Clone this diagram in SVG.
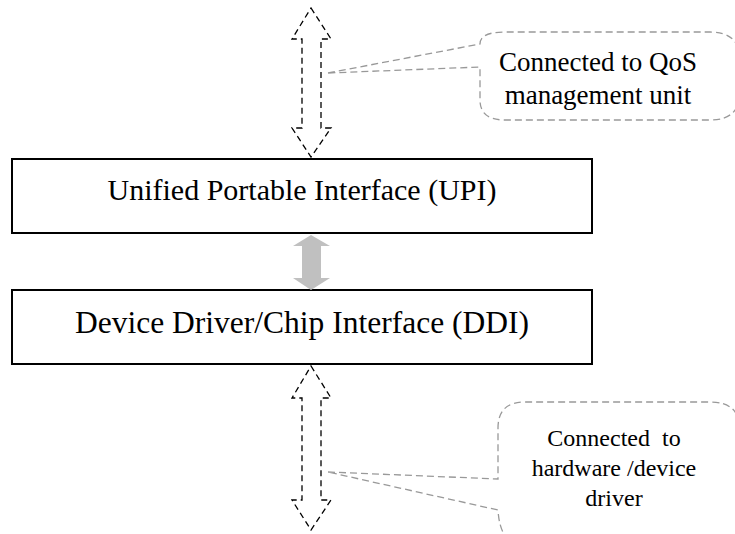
<svg xmlns="http://www.w3.org/2000/svg" width="735" height="534" viewBox="0 0 735 534">
  <style>
    .box { fill: #ffffff; stroke: #000000; stroke-width: 2; }
    .label { font-family: "Liberation Serif", "Times New Roman", serif; fill: #000000; text-anchor: middle; }
    .upi-text { font-size: 30px; }
    .ddi-text { font-size: 31.5px; }
    .note-top { font-size: 27px; }
    .note-bottom { font-size: 24px; }
    .callout { fill: #ffffff; stroke: #999999; stroke-width: 1.3; stroke-dasharray: 7 4; }
    .dashed-arrow { fill: #ffffff; stroke: #000000; stroke-width: 1.3; stroke-dasharray: 6 4; }
    .solid-arrow { fill: #c0c0c0; stroke: none; }
  </style>
  <rect width="735" height="534" fill="#ffffff"/>

  <!-- callout bubbles -->
  <g id="note-qos">
    <path class="callout" d="M328,73 L480,44 Q480,32 505,32 L710,32 Q740,32 740,60 L740,92 Q740,120 710,120 L505,120 Q480,120 480,100 L480,67 Z"/>
    <text class="label note-top" x="598" y="71">Connected to QoS</text>
    <text class="label note-top" x="598" y="104">management unit</text>
  </g>
  <g id="note-hw">
    <path class="callout" d="M328,472 L498,479 L498,428 Q498,402 525,402 L710,402 Q740,402 740,430 L740,548 L525,548 Q500,545 498,510 Z"/>
    <text class="label note-bottom" x="614" y="446" xml:space="preserve">Connected  to</text>
    <text class="label note-bottom" x="614" y="476">hardware /device</text>
    <text class="label note-bottom" x="614" y="506">driver</text>
  </g>

  <!-- layers -->
  <g id="upi">
    <rect class="box" x="12" y="159" width="580" height="74"/>
    <text class="label upi-text" x="302" y="200">Unified Portable Interface (UPI)</text>
  </g>
  <g id="ddi">
    <rect class="box" x="12" y="290" width="580" height="74"/>
    <text class="label ddi-text" x="302" y="333">Device Driver/Chip Interface (DDI)</text>
  </g>

  <!-- connectors -->
  <g id="connectors">
    <path class="dashed-arrow" d="M311,8 L331,39 L321,39 L321,128 L331,128 L311,157 L292,128 L302,128 L302,39 L292,39 Z"/>
    <path class="solid-arrow" d="M311,235 L330,246 L321,246 L321,278 L330,278 L311,290 L293,278 L302,278 L302,246 L293,246 Z"/>
    <path class="dashed-arrow" d="M311,366 L331,398 L321,398 L321,500 L331,500 L311,530 L292,500 L302,500 L302,398 L292,398 Z"/>
  </g>
</svg>
